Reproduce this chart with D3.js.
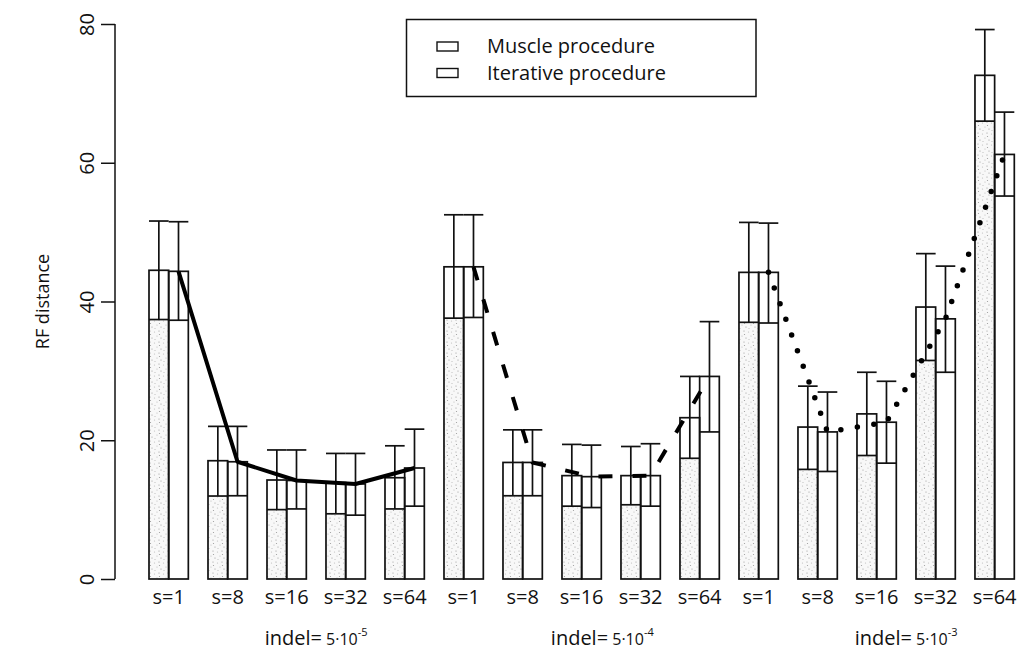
<!DOCTYPE html>
<html><head><meta charset="utf-8">
<script src="https://cdn.jsdelivr.net/npm/d3@7"></script>
<style>
body{margin:0;background:#fff}
text{font-family:"Open Sans",sans-serif;fill:#111}
</style>
</head><body>
<svg id="chart" width="1022" height="650"></svg>
<script>
// ---- data ----
const sValues = ["s=1","s=8","s=16","s=32","s=64"];
const indelExponents = ["-5","-4","-3"];
const indelBase = "5·10";
const indelGroupPos = [2.5, 7.35, 12.5];   // label anchor, in group units
const seriesNames = ["Muscle procedure","Iterative procedure"];
const yTicks = [0,20,40,60,80];

const muscleMean = [44.5,17.05,14.27,13.9,14.6, 45.0,16.8,14.9,14.9,23.25, 44.2,21.9,23.8,39.2,72.6];
const muscleLo   = [37.4,11.96,10.0,9.4,10.1,  37.6,12.0,10.5,10.7,17.4,  37.0,15.8,17.8,31.5,66.0];
const muscleHi   = [51.6,22.0,18.6,18.1,19.2,  52.5,21.5,19.4,19.1,29.2,  51.4,27.8,29.8,46.9,79.2];
const iterMean   = [44.35,16.9,14.2,13.7,16.0, 45.0,16.8,14.75,14.9,29.2, 44.2,21.2,22.6,37.5,61.2];
const iterLo     = [37.3,12.0,10.1,9.2,10.5,   37.7,12.0,10.3,10.5,21.2,  36.9,15.5,16.7,29.8,55.2];
const iterHi     = [51.5,22.0,18.6,18.1,21.6,  52.5,21.5,19.3,19.5,37.1,  51.3,26.95,28.5,45.1,67.3];

const groups = d3.range(indelExponents.length * sValues.length);
const sOf = i => sValues[i % sValues.length];

const series = [
  {key:"muscle", mean:muscleMean, lo:muscleLo, hi:muscleHi, stipple:true},
  {key:"iter",   mean:iterMean,   lo:iterLo,   hi:iterHi,   stipple:false}
];

// ---- layout ----
const plotLeft = 149, plotRight = 1014.3, yBottom = 579, yTop = 24, axisX = 115;
const svg = d3.select("#chart");

const x = d3.scaleBand().domain(groups).range([plotLeft, plotRight]).paddingInner(1/3).paddingOuter(0);
const xs = d3.scaleBand().domain(series.map(d=>d.key)).range([0, x.bandwidth()]);
const y = d3.scaleLinear().domain([0,80]).range([yBottom, yTop]);
const bw = xs.bandwidth();

// stipple pattern
const defs = svg.append("defs");
const pat = defs.append("pattern").attr("id","stipple").attr("patternUnits","userSpaceOnUse")
  .attr("width",9).attr("height",11);
pat.append("rect").attr("width",9).attr("height",11).attr("fill","#f8f8f8");
[[1.5,2],[6,1],[4,6],[8,8],[2,9.5],[6.5,4.5]].forEach(([cx,cy],j)=>{
  pat.append("circle").attr("cx",cx).attr("cy",cy).attr("r",0.6).attr("fill", j%2? "#999":"#bbb");
});

// y axis
const yAxis = d3.axisLeft(y).tickValues(yTicks).tickSize(14).tickFormat(d3.format("d"));
const gy = svg.append("g").attr("transform",`translate(${axisX},0)`).call(yAxis);
gy.select(".domain").attr("d", `M0,${y(0)}V${y(80)}`).attr("stroke","#111").attr("stroke-width",1.5);
gy.selectAll(".tick line").attr("stroke","#111").attr("stroke-width",1.5);
gy.selectAll(".tick text")
  .attr("x",0).attr("y",0).attr("dy",null)
  .attr("transform", "translate(-29,0) rotate(-90)")
  .attr("text-anchor","middle").attr("dominant-baseline","central")
  .style("font-family","'Open Sans',sans-serif").style("font-size","20px").attr("fill","#111");

svg.append("text").attr("transform",`translate(42,${y(40)}) rotate(-90)`)
  .attr("text-anchor","middle").attr("dominant-baseline","central")
  .style("font-size","18px").text("RF distance");

// bars
const gBars = svg.append("g");
series.forEach(s=>{
  const g = gBars.append("g");
  groups.forEach(i=>{
    const bx = x(i) + xs(s.key);
    g.append("rect").attr("x",bx).attr("y",y(s.mean[i])).attr("width",bw)
      .attr("height",y(0)-y(s.mean[i])).attr("fill","#fff");
    if (s.stipple) {
      g.append("rect").attr("x",bx).attr("y",y(s.lo[i])).attr("width",bw)
        .attr("height",y(0)-y(s.lo[i])).attr("fill","url(#stipple)");
    }
  });
});
series.forEach(s=>{
  const g = gBars.append("g").attr("stroke","#111").attr("stroke-width",1.7).attr("fill","none");
  groups.forEach(i=>{
    const bx = x(i) + xs(s.key);
    g.append("rect").attr("x",bx).attr("y",y(s.mean[i])).attr("width",bw)
      .attr("height",y(0)-y(s.mean[i]));
    g.append("line").attr("x1",bx).attr("x2",bx+bw).attr("y1",y(s.lo[i])).attr("y2",y(s.lo[i]));
    const cx = bx + bw/2;
    g.append("line").attr("x1",cx).attr("x2",cx).attr("y1",y(s.lo[i])).attr("y2",y(s.hi[i]));
    g.append("line").attr("x1",cx-bw/2).attr("x2",cx+bw/2).attr("y1",y(s.hi[i])).attr("y2",y(s.hi[i]));
  });
});

// trend lines through iterative means
const styles = [
  {dash:null, cap:"butt", w:4},
  {dash:"14,20", cap:"butt", w:4},
  {dash:"0,16.7", cap:"round", w:5.5}
];
const line = d3.line().x(i => x(i) + xs("iter") + bw/2).y(i => y(iterMean[i]));
indelExponents.forEach((e,k)=>{
  const idx = groups.filter(i => Math.floor(i / sValues.length) === k);
  svg.append("path").attr("d", line(idx)).attr("fill","none").attr("stroke","#000")
    .attr("stroke-width", styles[k].w).attr("stroke-linejoin","round")
    .attr("stroke-linecap", styles[k].cap)
    .attr("stroke-dasharray", styles[k].dash);
});

// x labels
svg.append("g").selectAll("text").data(groups).join("text")
  .attr("x", i => x(i) + x.bandwidth()/2).attr("y", 604)
  .attr("text-anchor","middle").style("font-size","20px").text(i => sOf(i));

// indel labels
indelExponents.forEach((e,k)=>{
  const cx = x(0) + x.bandwidth()/2 + indelGroupPos[k] * x.step();
  const t = svg.append("text").attr("x",cx).attr("y",645).attr("text-anchor","middle");
  t.append("tspan").style("font-size","20px").text("indel=");
  t.append("tspan").style("font-size","16px").text(" " + indelBase);
  t.append("tspan").style("font-size","11px").attr("dy",-9).text(e);
});

// legend
const lg = svg.append("g");
lg.append("rect").attr("x",406.5).attr("y",19.5).attr("width",349.5).attr("height",77)
  .attr("fill","#fff").attr("stroke","#111").attr("stroke-width",1.5);
seriesNames.forEach((name,j)=>{
  const by = 53 + j*26.5;
  lg.append("rect").attr("x",437).attr("y",by-11).attr("width",21).attr("height",9)
    .attr("fill", "#fff").attr("stroke","#111").attr("stroke-width",1.4);
  lg.append("text").attr("x",487).attr("y",by).style("font-size","20px").text(name);
});
</script>
</body></html>
